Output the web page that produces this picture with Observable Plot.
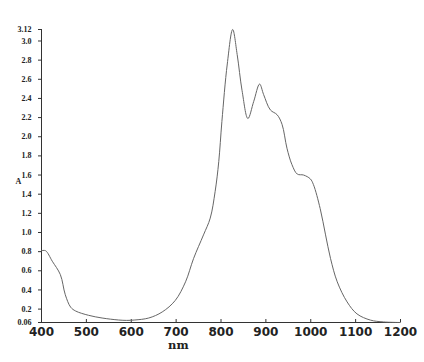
<!DOCTYPE html>
<html>
<head>
<meta charset="utf-8">
<script src="https://cdn.jsdelivr.net/npm/d3@7"></script>
<script src="https://cdn.jsdelivr.net/npm/@observablehq/plot@0.6"></script>
<style>
  html, body { margin: 0; padding: 0; background: #fff; }
  svg { display: block; }
</style>
</head>
<body>
<div id="chart"></div>
<script>
const wavelength = [400, 409, 424, 442, 453, 465, 476, 505, 535, 572, 590, 608, 639, 669, 698, 721, 739, 761, 776, 787, 795, 802, 814, 826, 836, 847, 860, 873, 886, 895, 910, 925, 936, 947, 958, 970, 984, 999, 1006, 1021, 1033, 1044, 1059, 1081, 1103, 1133, 1162, 1200];
const absorbance = [0.81, 0.81, 0.70, 0.56, 0.35, 0.22, 0.18, 0.135, 0.107, 0.086, 0.082, 0.086, 0.107, 0.17, 0.29, 0.485, 0.73, 0.975, 1.15, 1.43, 1.74, 2.16, 2.76, 3.12, 2.86, 2.48, 2.19, 2.37, 2.55, 2.44, 2.28, 2.23, 2.13, 1.88, 1.71, 1.61, 1.60, 1.56, 1.50, 1.25, 0.975, 0.73, 0.485, 0.275, 0.15, 0.085, 0.066, 0.06];
const yTicks = [0.06, 0.2, 0.4, 0.6, 0.8, 1.0, 1.2, 1.4, 1.6, 1.8, 2.0, 2.2, 2.4, 2.6, 2.8, 3.0, 3.12];
const xTicks = [400, 500, 600, 700, 800, 900, 1000, 1100, 1200];
const xLabel = "nm";
const yLabel = "A";

const data = wavelength.map((w, i) => ({w, a: absorbance[i]}));

const chart = Plot.plot({
  width: 424,
  height: 362,
  marginLeft: 41,
  marginTop: 29,
  marginBottom: 40,
  marginRight: 24,
  style: {fontFamily: "'DejaVu Sans', sans-serif", background: "#fff", color: "#222"},
  x: {domain: [400, 1200]},
  y: {domain: [0.06, 3.12]},
  marks: [
    Plot.axisY({
      ticks: yTicks,
      tickFormat: d => (d === 0.06 || d === 3.12) ? d.toFixed(2) : d.toFixed(1),
      tickSize: 3,
      tickPadding: 7,
      label: null,
      fontFamily: "'Liberation Serif', serif",
      fontWeight: "bold",
      fontSize: 8,
      stroke: "#333"
    }),
    Plot.axisX({
      ticks: xTicks,
      tickFormat: d => String(d),
      tickSize: -3,
      tickPadding: 8,
      label: null,
      fontFamily: "'DejaVu Sans', sans-serif",
      fontWeight: "bold",
      fontSize: 12,
      stroke: "#333"
    }),
    Plot.ruleY([0.06], {stroke: "#333", strokeWidth: 1}),
    Plot.ruleX([400], {stroke: "#333", strokeWidth: 1}),
    Plot.line(data, {x: "w", y: "a", curve: "catmull-rom", stroke: "#666", strokeWidth: 1}),
    Plot.text([yLabel], {text: d => d, frameAnchor: "left", dx: -26, dy: 5, fontFamily: "'Liberation Serif', serif", fontWeight: "bold", fontSize: 8, fill: "#222"}),
    Plot.text([{w: 705}], {x: "w", text: () => xLabel, frameAnchor: "bottom", dy: 26, fontFamily: "'DejaVu Serif', serif", fontWeight: "bold", fontSize: 11.5, fill: "#222"})
  ]
});
document.getElementById("chart").appendChild(chart);
</script>
</body>
</html>
